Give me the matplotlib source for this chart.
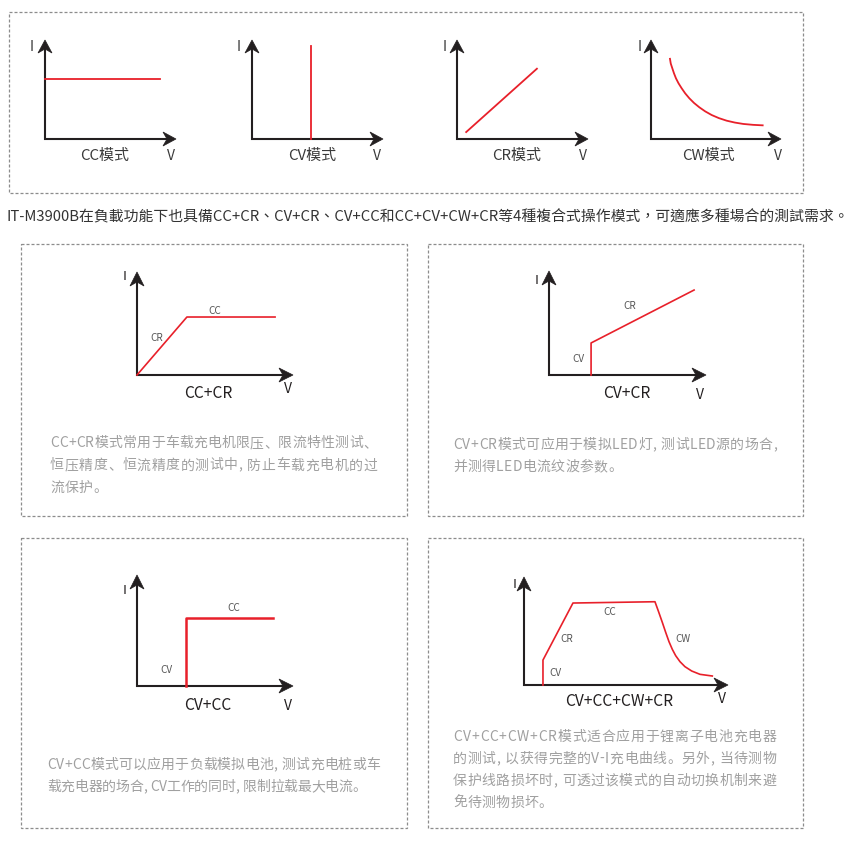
import matplotlib
matplotlib.use("Agg")
import matplotlib.pyplot as plt
from matplotlib.patches import Polygon, Rectangle

plt.rcParams['font.family'] = ['Noto Sans CJK SC', 'DejaVu Sans']

# ---------------- data (local V, I units: 0..1 along each drawn axis) ----------------
cc_V = [0.0, 0.88]
cc_I = [0.61, 0.61]
cv_V = [0.45, 0.45]
cv_I = [0.0, 0.94]
cr_V = [0.07, 0.61]
cr_I = [0.07, 0.71]
cw_V = [0.146, 0.152, 0.164, 0.177, 0.192, 0.212, 0.236, 0.263, 0.295, 0.331, 0.372,
        0.417, 0.467, 0.522, 0.582, 0.645, 0.71, 0.785, 0.859]
cw_I = [0.81, 0.762, 0.714, 0.663, 0.613, 0.562, 0.512, 0.461, 0.411, 0.364, 0.32,
        0.279, 0.242, 0.211, 0.185, 0.166, 0.152, 0.143, 0.138]

cccr_V = [0.0, 0.32, 0.885]
cccr_I = [0.0, 0.563, 0.563]
cvcr_V = [0.268, 0.268, 0.924]
cvcr_I = [0.0, 0.308, 0.817]
cvcc_V = [0.314, 0.314, 0.872]
cvcc_I = [0.0, 0.613, 0.613]
all4_V = [0.093, 0.093, 0.24, 0.642, 0.6585, 0.678, 0.6945, 0.7108, 0.7271, 0.7435,
          0.7647, 0.789, 0.822, 0.8627, 0.923]
all4_I = [0.0, 0.231, 0.759, 0.771, 0.685, 0.580, 0.4877, 0.401, 0.330, 0.2716,
          0.216, 0.1698, 0.1296, 0.0988, 0.0833]

top_titles = ["CC模式", "CV模式", "CR模式", "CW模式"]
combo_titles = ["CC+CR", "CV+CR", "CV+CC", "CV+CC+CW+CR"]

cccr_labels = [("CR", 0.128, 0.36), ("CC", 0.50, 0.62)]
cvcr_labels = [("CR", 0.516, 0.663), ("CV", 0.185, 0.154)]
cvcc_labels = [("CC", 0.62, 0.70), ("CV", 0.186, 0.144)]
all4_labels = [("CC", 0.42, 0.676), ("CR", 0.21, 0.426), ("CW", 0.78, 0.426), ("CV", 0.152, 0.111)]

intro_text = "IT-M3900B在負載功能下也具備CC+CR、CV+CR、CV+CC和CC+CV+CW+CR等4種複合式操作模式，可適應多種場合的測試需求。"

desc_cccr = ["CC+CR模式常用于车载充电机限压、限流特性测试、",
             "恒压精度、恒流精度的测试中, 防止车载充电机的过",
             "流保护。"]
desc_cvcr = ["CV+CR模式可应用于模拟LED灯, 测试LED源的场合,",
             "并测得LED电流纹波参数。"]
desc_cvcc = ["CV+CC模式可以应用于负载模拟电池, 测试充电桩或车",
             "载充电器的场合, CV工作的同时, 限制拉载最大电流。"]
desc_all4 = ["CV+CC+CW+CR模式适合应用于锂离子电池充电器",
             "的测试, 以获得完整的V-I充电曲线。另外, 当待测物",
             "保护线路损坏时, 可透过该模式的自动切换机制来避",
             "免待测物损坏。"]

# ---------------- styling ----------------
W, H = 856, 846
RED = '#e8202a'
AXC = '#231f20'
LBL = '#3a3a3a'
GRAY = '#a0a0a0'
BOX = '#8c8c8c'

fig = plt.figure(figsize=(W / 100, H / 100), dpi=100)
fig.patch.set_facecolor('white')
bg = fig.add_axes([0, 0, 1, 1])
bg.set_xlim(0, W)
bg.set_ylim(H, 0)
bg.axis('off')
renderer = fig.canvas.get_renderer()


def char_width(ch, fs):
    if ch == ' ':
        return fs * 1.39 * 0.28
    t = bg.text(0, 0, ch, fontsize=fs)
    w = t.get_window_extent(renderer).width
    t.remove()
    return w


def tracked_text(x0, y, s, fs, color, right=None, track=None):
    widths = [char_width(c, fs) for c in s]
    nat = sum(widths)
    if right is not None:
        track = (right - x0 - nat) / max(len(s) - 1, 1)
    if track is None:
        track = 0.0
    x = x0
    for c, w in zip(s, widths):
        if c != ' ':
            bg.text(x, y, c, fontsize=fs, color=color, ha='left', va='center')
        x += w + track
    return track


def dashed_box(x0, y0, x1, y1):
    bg.add_patch(Rectangle((x0, y0), x1 - x0, y1 - y0, fill=False, edgecolor=BOX,
                           lw=0.9, linestyle=(0, (2.4, 1.6))))


def mini(ox, oy, xt, yt, V, I, lw=1.2, head=(13, 7, 4), labels=(), lab_fs=7.2):
    L, hw, n = head
    bg.plot([ox, ox, xt - L + n], [yt + L - n, oy, oy], color=AXC, lw=1.5,
            solid_joinstyle='miter', solid_capstyle='butt', zorder=3)
    bg.add_patch(Polygon([(xt, oy), (xt - L, oy - hw), (xt - L + n, oy), (xt - L, oy + hw)],
                         closed=True, facecolor=AXC, edgecolor=AXC, lw=0.5, zorder=3))
    bg.add_patch(Polygon([(ox, yt), (ox - hw, yt + L), (ox, yt + L - n), (ox + hw, yt + L)],
                         closed=True, facecolor=AXC, edgecolor=AXC, lw=0.5, zorder=3))
    ax = fig.add_axes([ox / W, (H - oy) / H, (xt - ox) / W, (oy - yt) / H])
    ax.set_xlim(0, 1)
    ax.set_ylim(0, 1)
    ax.axis('off')
    ax.patch.set_alpha(0)
    ax.plot(V, I, color=RED, lw=lw, clip_on=False, solid_joinstyle='round', zorder=4)
    for t, lv, li in labels:
        ax.text(lv, li, t, fontsize=lab_fs, color='#555555', ha='center', va='center')
    return ax


# ---------------- top panel ----------------
dashed_box(9, 12, 803, 193)
tops = [
    (45, 139, 176, 40, cc_V, cc_I, 32, 105, 171),
    (252, 139, 383, 40, cv_V, cv_I, 239, 312, 377),
    (457, 139, 588, 40, cr_V, cr_I, 445, 517, 583),
    (651, 139, 781, 40, cw_V, cw_I, 640, 708, 778),
]
for (ox, oy, xt, yt, V, I, ix, tx, vx), title in zip(tops, top_titles):
    mini(ox, oy, xt, yt, V, I, lw=1.3, head=(13, 7, 4))
    bg.text(ix, 47, "I", fontsize=10, color=LBL, ha='center', va='center')
    bg.text(tx, 156, title, fontsize=10.8, color=LBL, ha='center', va='center')
    bg.text(vx, 156, "V", fontsize=10, color=LBL, ha='center', va='center')

bg.text(7, 217, intro_text, fontsize=10.7, color='#333333', ha='left', va='center',
        family=['Noto Sans CJK TC', 'DejaVu Sans'])

# ---------------- combo panels ----------------
dashed_box(21, 244, 407, 516)
dashed_box(428, 244, 803, 516)
dashed_box(21, 538, 407, 828)
dashed_box(428, 538, 803, 828)

combos = [
    (137, 375, 293, 272, cccr_V, cccr_I, cccr_labels, 1.2, (125, 277), (208, 393), (288, 389),
     desc_cccr, 50, 443, 22.5, [377, 377]),
    (549, 375, 706, 271, cvcr_V, cvcr_I, cvcr_labels, 1.2, (537, 280), (627, 394), (700, 395),
     desc_cvcr, 453, 445, 22.0, [777]),
    (137, 686, 293, 575, cvcc_V, cvcc_I, cvcc_labels, 1.8, (125, 591), (208, 706), (288, 706),
     desc_cvcc, 47, 765, 22.0, [380, 366]),
    (524, 685, 728, 577, all4_V, all4_I, all4_labels, 1.2, (515, 585), (619, 702), (722, 699),
     desc_all4, 453, 737, 22.0, [776, 776, 776]),
]
for (ox, oy, xt, yt, V, I, labs, lw, ipos, tpos, vpos, desc, dx, dy, sp, rights), title in zip(combos, combo_titles):
    mini(ox, oy, xt, yt, V, I, lw=lw, head=(14, 7, 4), labels=labs)
    bg.text(ipos[0], ipos[1], "I", fontsize=9.5, color=AXC, ha='center', va='center')
    bg.text(tpos[0], tpos[1], title, fontsize=11.2, color=AXC, ha='center', va='center')
    bg.text(vpos[0], vpos[1], "V", fontsize=10, color=AXC, ha='center', va='center')
    trk = 0.0
    for k, line in enumerate(desc):
        if k < len(rights):
            trk = tracked_text(dx, dy + k * sp, line, 10, GRAY, right=rights[k])
        else:
            tracked_text(dx, dy + k * sp, line, 10, GRAY, track=trk)

fig.savefig("out.png", dpi=100, facecolor='white')
